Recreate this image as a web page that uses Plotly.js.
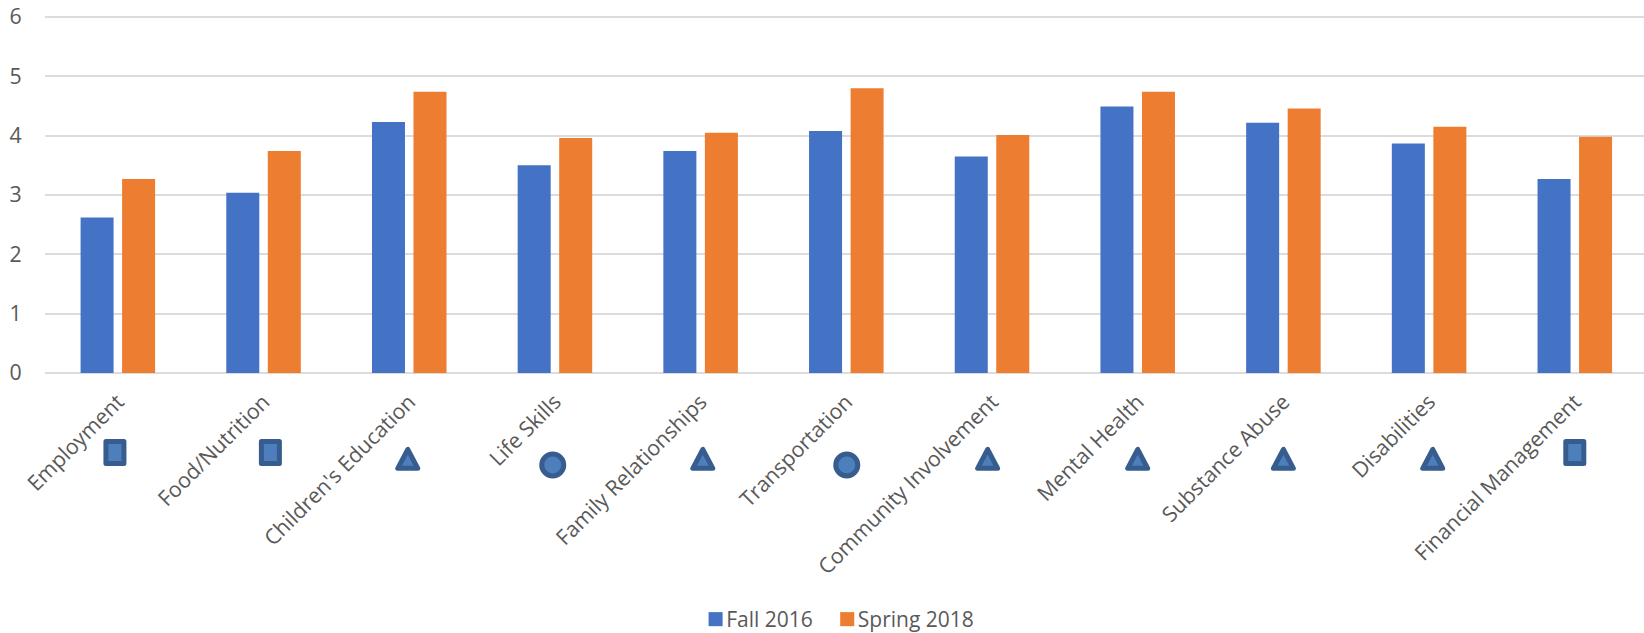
<!DOCTYPE html>
<html><head><meta charset="utf-8">
<script src="https://cdn.plot.ly/plotly-3.0.1.min.js"></script>
<style>html,body{margin:0;padding:0;background:#fff}.scatterlayer .point{stroke-linejoin:round !important;vector-effect:non-scaling-stroke}</style>
</head><body><div id="chart" style="width:1644px;height:633px"></div>
<script>
const categories = ["Employment","Food/Nutrition","Children's Education","Life Skills","Family Relationships","Transportation","Community Involvement","Mental Health","Substance Abuse","Disabilities","Financial Management"];
const fall2016 = [2.62,3.04,4.23,3.5,3.74,4.08,3.65,4.49,4.22,3.87,3.27];
const spring2018 = [3.27,3.74,4.74,3.96,4.05,4.8,4.01,4.74,4.46,4.15,3.98];
const iconSymbols = ["square","square","triangle-up","circle","triangle-up","circle","triangle-up","triangle-up","triangle-up","triangle-up","square"];
const iconSizes = [18,18,17.3,22,17.3,22,17.3,17.3,17.3,17.3,18];
const iconStretch = [1.22,1.22,1.46,1,1.46,1,1.46,1.46,1.46,1.46,1.22];
const iconX = [-0.02,1.047,1.99,2.985,4.015,5.003,5.97,7.0,8.0,9.025,10.0];
const iconY = [-1.34,-1.34,-1.5,-1.55,-1.5,-1.55,-1.5,-1.5,-1.5,-1.5,-1.34];
const positions = categories.map((_,i)=>i);
const tickFont = {family:"'Open Sans', sans-serif", size:21.3, color:"#595959"};
const legendFont = {family:"'Open Sans', sans-serif", size:21, color:"#595959"};
Plotly.newPlot("chart",[
 {type:"bar",name:"Fall 2016",x:positions,y:fall2016,marker:{color:"#4472c4"}},
 {type:"bar",name:"Spring 2018",x:positions,y:spring2018,marker:{color:"#ed7d31"}},
 {type:"scatter",mode:"markers",x:iconX,y:iconY,xaxis:"x",yaxis:"y2",showlegend:false,hoverinfo:"skip",cliponaxis:false,
  marker:{symbol:iconSymbols,size:iconSizes,opacity:1,color:"#4d7fbd",line:{color:"#375d8f",width:5}}}
],{
 width:1644,height:633,paper_bgcolor:"#fff",plot_bgcolor:"#fff",font:tickFont,
 margin:{l:45,r:0,t:15,b:0,pad:0},
 barmode:"group",bargap:0.43,bargroupgap:0.205,
 xaxis:{range:[-0.5,10.475],anchor:"y",tickmode:"array",tickvals:positions,ticktext:categories,tickangle:-45,tickfont:tickFont,
  ticks:"outside",ticklen:7,tickcolor:"rgba(0,0,0,0)",showgrid:false,zeroline:false,showline:false,automargin:false},
 yaxis:{domain:[0.4207,1],range:[0,6.034],tickvals:[0,1,2,3,4,5,6],tickmode:"array",ticks:"outside",ticklen:18,tickcolor:"rgba(0,0,0,0)",gridcolor:"#dcdcdc",gridwidth:2,tickfont:tickFont,
  zeroline:true,zerolinecolor:"#dcdcdc",zerolinewidth:2,showline:false,automargin:false},
 yaxis2:{domain:[0,0.4207],range:[-4.382,0],visible:false,fixedrange:true},
 legend:{orientation:"h",x:0.401,xanchor:"left",y:0,yanchor:"bottom",font:legendFont,itemwidth:30,traceorder:"normal",bgcolor:"rgba(0,0,0,0)"},
 showlegend:true
},{displayModeBar:false,staticPlot:true}).then(function(){
 document.querySelectorAll(".scatterlayer .point").forEach(function(p,i){
  p.setAttribute("transform",p.getAttribute("transform")+" scale(1,"+iconStretch[i]+")");
 });
 document.querySelectorAll(".legendpoints").forEach(function(g){
  g.setAttribute("transform","translate(6,0) scale(1.17)");
 });
 const lg = document.querySelector(".legend");
 lg.setAttribute("transform",lg.getAttribute("transform")+" translate(0,7)");
 const bg = lg.querySelector(".scrollbox");
 if(bg){ bg.removeAttribute("clip-path"); }
});
</script></body></html>
